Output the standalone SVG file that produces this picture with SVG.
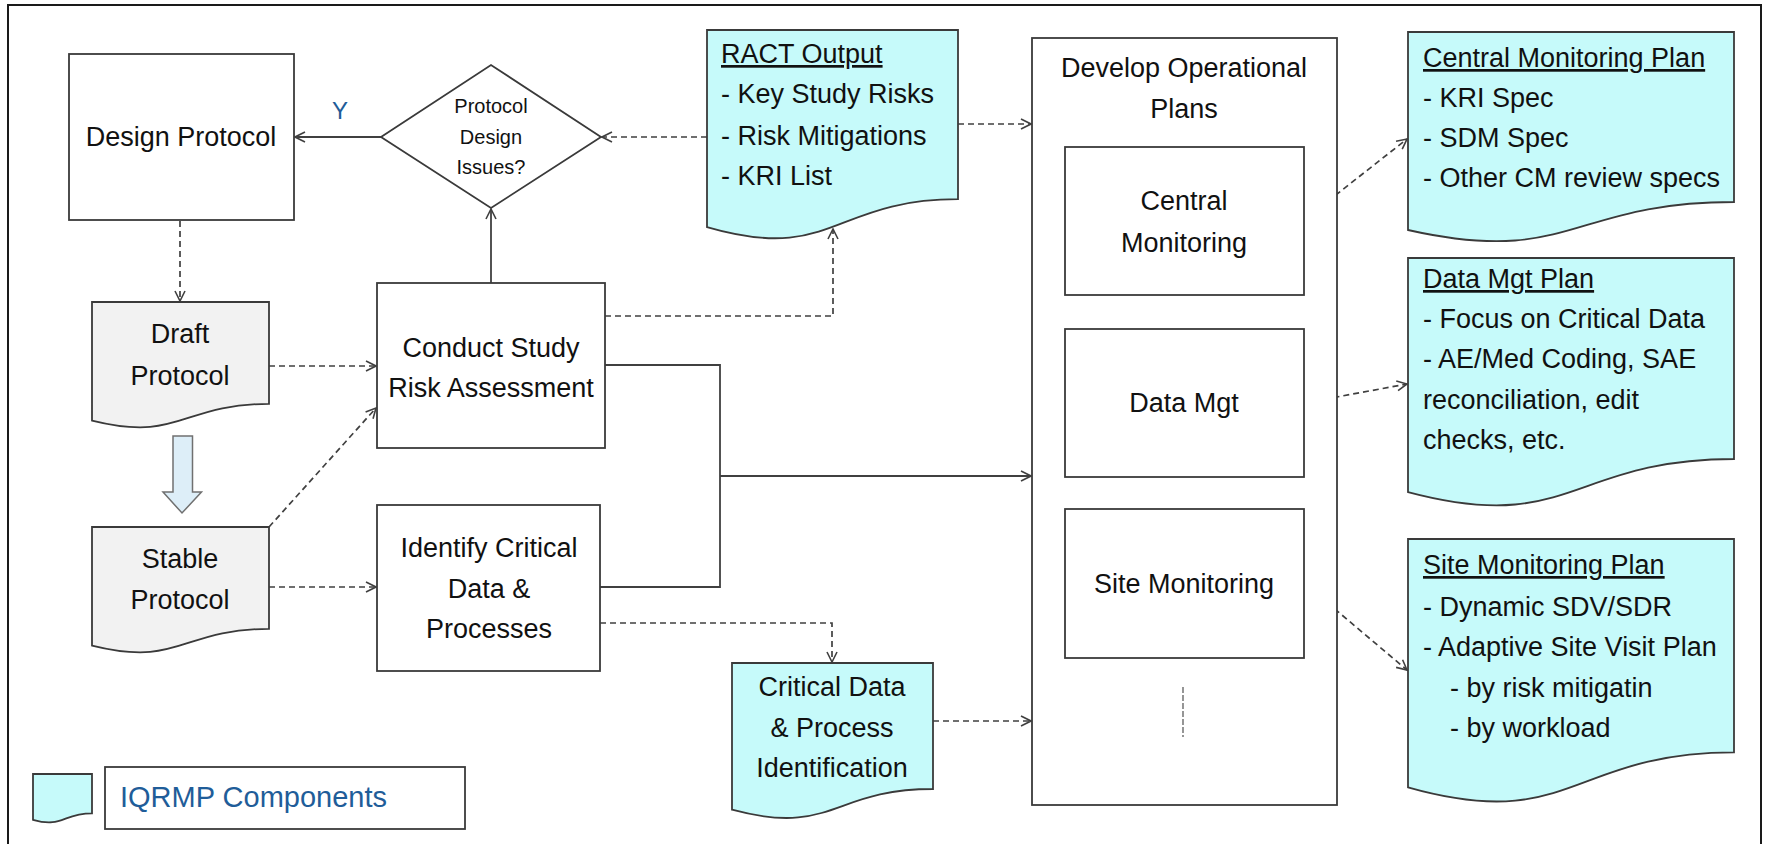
<svg xmlns="http://www.w3.org/2000/svg" width="1765" height="844" viewBox="0 0 1765 844">
  <defs>
    <marker id="arrow" viewBox="0 0 12 12" refX="11" refY="6" markerWidth="12" markerHeight="12" markerUnits="userSpaceOnUse" orient="auto">
      <path d="M1,1 L11,6 L1,11" fill="none" stroke="#404040" stroke-width="1.6"/>
    </marker>
  </defs>
  <style>
    .box { fill: #ffffff; stroke: #3a3a3a; stroke-width: 1.8; }
    .doc-grey { fill: #f2f2f2; stroke: #3a3a3a; stroke-width: 1.8; }
    .doc-cyan { fill: #c6fafa; stroke: #3a3a3a; stroke-width: 1.8; }
    .solid { fill: none; stroke: #404040; stroke-width: 1.8; }
    .dash { fill: none; stroke: #404040; stroke-width: 1.7; stroke-dasharray: 6 4; }
    text { font-family: "Liberation Sans", Arial, sans-serif; fill: #111111; }
    .t26 { font-size: 27px; }
    .c { text-anchor: middle; }
    .small { font-size: 20px; }
    .head { text-decoration: underline; }
    .blue { fill: #1f5d99; }
  </style>

  <!-- outer frame -->
  <rect x="8" y="5" width="1753" height="850" fill="#ffffff" stroke="#1a1a1a" stroke-width="2"/>

  <!-- connectors -->
  <g id="connectors">
    <line class="solid" x1="381" y1="137" x2="295" y2="137" marker-end="url(#arrow)"/>
    <line class="solid" x1="491" y1="283" x2="491" y2="209" marker-end="url(#arrow)"/>
    <line class="dash" x1="707" y1="137" x2="602" y2="137" marker-end="url(#arrow)"/>
    <line class="dash" x1="180" y1="221" x2="180" y2="301" marker-end="url(#arrow)"/>
    <line class="dash" x1="269" y1="366" x2="376" y2="366" marker-end="url(#arrow)"/>
    <line class="dash" x1="269" y1="527" x2="376" y2="408" marker-end="url(#arrow)"/>
    <line class="dash" x1="269" y1="587" x2="376" y2="587" marker-end="url(#arrow)"/>
    <polyline class="dash" points="605,316 833,316 833,229" marker-end="url(#arrow)"/>
    <polyline class="solid" points="605,365 720,365 720,587 600,587"/>
    <line class="solid" x1="720" y1="476" x2="1031" y2="476" marker-end="url(#arrow)"/>
    <polyline class="dash" points="600,623 832,623 832,662" marker-end="url(#arrow)"/>
    <line class="dash" x1="933" y1="721" x2="1031" y2="721" marker-end="url(#arrow)"/>
    <line class="dash" x1="958" y1="124" x2="1031" y2="124" marker-end="url(#arrow)"/>
    <line class="dash" x1="1304" y1="220" x2="1407" y2="139" marker-end="url(#arrow)"/>
    <line class="dash" x1="1304" y1="403" x2="1407" y2="384" marker-end="url(#arrow)"/>
    <line class="dash" x1="1304" y1="583" x2="1407" y2="670" marker-end="url(#arrow)"/>
  </g>

  <!-- Design Protocol -->
  <g id="design-protocol">
    <rect class="box" x="69" y="54" width="225" height="166"/>
    <text class="t26 c" x="181" y="146">Design Protocol</text>
  </g>

  <g id="label-y">
    <text class="blue" x="332" y="119" font-size="24">Y</text>
  </g>

  <!-- decision diamond -->
  <g id="protocol-design-issues">
    <polygon class="box" points="381,137 491,65 601,137 491,208"/>
    <text class="small c" x="491" y="113">Protocol</text>
    <text class="small c" x="491" y="144">Design</text>
    <text class="small c" x="491" y="174">Issues?</text>
  </g>

  <!-- Draft Protocol document -->
  <g id="draft-protocol">
    <path class="doc-grey" d="M92,302 H269 V403.9 C180.5,403.9 180.5,442.6 92,420.6 Z"/>
    <text class="t26 c" x="180" y="343">Draft</text>
    <text class="t26 c" x="180" y="385">Protocol</text>
  </g>

  <!-- block arrow between protocol versions -->
  <g id="draft-to-stable">
    <path d="M173,436 H192.5 V492 H201.5 L182,513 L163,492 H173 Z" fill="#ddeef8" stroke="#707070" stroke-width="1.5"/>
  </g>

  <!-- Stable Protocol document -->
  <g id="stable-protocol">
    <path class="doc-grey" d="M92,527 H269 V628.9 C180.5,628.9 180.5,667.6 92,645.6 Z"/>
    <text class="t26 c" x="180" y="568">Stable</text>
    <text class="t26 c" x="180" y="609">Protocol</text>
  </g>

  <!-- Conduct Study Risk Assessment -->
  <g id="conduct-risk-assessment">
    <rect class="box" x="377" y="283" width="228" height="165"/>
    <text class="t26 c" x="491" y="357">Conduct Study</text>
    <text class="t26 c" x="491" y="397">Risk Assessment</text>
  </g>

  <!-- Identify Critical Data & Processes -->
  <g id="identify-critical">
    <rect class="box" x="377" y="505" width="223" height="166"/>
    <text class="t26 c" x="489" y="557">Identify Critical</text>
    <text class="t26 c" x="489" y="598">Data &amp;</text>
    <text class="t26 c" x="489" y="638">Processes</text>
  </g>

  <!-- RACT Output document -->
  <g id="ract-output">
    <path class="doc-cyan" d="M707,30 H958 V199.2 C832.5,199.2 832.5,263.6 707,227.1 Z"/>
    <text class="t26 head" x="721" y="63">RACT Output</text>
    <text class="t26" x="721" y="103">- Key Study Risks</text>
    <text class="t26" x="721" y="145">- Risk Mitigations</text>
    <text class="t26" x="721" y="185">- KRI List</text>
  </g>

  <!-- Critical Data & Process Identification document -->
  <g id="critical-data-identification">
    <path class="doc-cyan" d="M732,663 H933 V789 C832.5,789 832.5,836.8 732,809.7 Z"/>
    <text class="t26 c" x="832" y="696">Critical Data</text>
    <text class="t26 c" x="832" y="737">&amp; Process</text>
    <text class="t26 c" x="832" y="777">Identification</text>
  </g>

  <!-- Develop Operational Plans container -->
  <g id="develop-operational-plans">
    <rect class="box" x="1032" y="38" width="305" height="767"/>
    <text class="t26 c" x="1184" y="77">Develop Operational</text>
    <text class="t26 c" x="1184" y="118">Plans</text>
    <line x1="1183" y1="687" x2="1183" y2="737" stroke="#505050" stroke-width="1.2" stroke-dasharray="6 2"/>
  </g>

  <g id="central-monitoring">
    <rect class="box" x="1065" y="147" width="239" height="148"/>
    <text class="t26 c" x="1184" y="210">Central</text>
    <text class="t26 c" x="1184" y="252">Monitoring</text>
  </g>

  <g id="data-mgt">
    <rect class="box" x="1065" y="329" width="239" height="148"/>
    <text class="t26 c" x="1184" y="412">Data Mgt</text>
  </g>

  <g id="site-monitoring">
    <rect class="box" x="1065" y="509" width="239" height="149"/>
    <text class="t26 c" x="1184" y="593">Site Monitoring</text>
  </g>

  <!-- plan documents -->
  <g id="central-monitoring-plan">
    <path class="doc-cyan" d="M1408,32 H1734 V202 C1571,202 1571,266.7 1408,230 Z"/>
    <text class="t26 head" x="1423" y="67">Central Monitoring Plan</text>
    <text class="t26" x="1423" y="107">- KRI Spec</text>
    <text class="t26" x="1423" y="147">- SDM Spec</text>
    <text class="t26" x="1423" y="187">- Other CM review specs</text>
  </g>

  <g id="data-mgt-plan">
    <path class="doc-cyan" d="M1408,258 H1734 V459 C1571,459 1571,535.4 1408,492.1 Z"/>
    <text class="t26 head" x="1423" y="288">Data Mgt Plan</text>
    <text class="t26" x="1423" y="328">- Focus on Critical Data</text>
    <text class="t26" x="1423" y="368">- AE/Med Coding, SAE</text>
    <text class="t26" x="1423" y="409">reconciliation, edit</text>
    <text class="t26" x="1423" y="449">checks, etc.</text>
  </g>

  <g id="site-monitoring-plan">
    <path class="doc-cyan" d="M1408,539 H1734 V752.3 C1571,752.3 1571,833.5 1408,787.4 Z"/>
    <text class="t26 head" x="1423" y="574">Site Monitoring Plan</text>
    <text class="t26" x="1423" y="616">- Dynamic SDV/SDR</text>
    <text class="t26" x="1423" y="656">- Adaptive Site Visit Plan</text>
    <text class="t26" x="1450" y="697">- by risk mitigatin</text>
    <text class="t26" x="1450" y="737">- by workload</text>
  </g>

  <!-- legend -->
  <g id="legend">
    <path class="doc-cyan" d="M33,774 H92 V813.3 C62.5,813.3 62.5,828.2 33,819.8 Z" stroke-width="1.4"/>
    <rect x="105" y="767" width="360" height="62" fill="#ffffff" stroke="#3a3a3a" stroke-width="1.8"/>
    <text class="blue" x="120" y="807" font-size="29">IQRMP Components</text>
  </g>
</svg>
